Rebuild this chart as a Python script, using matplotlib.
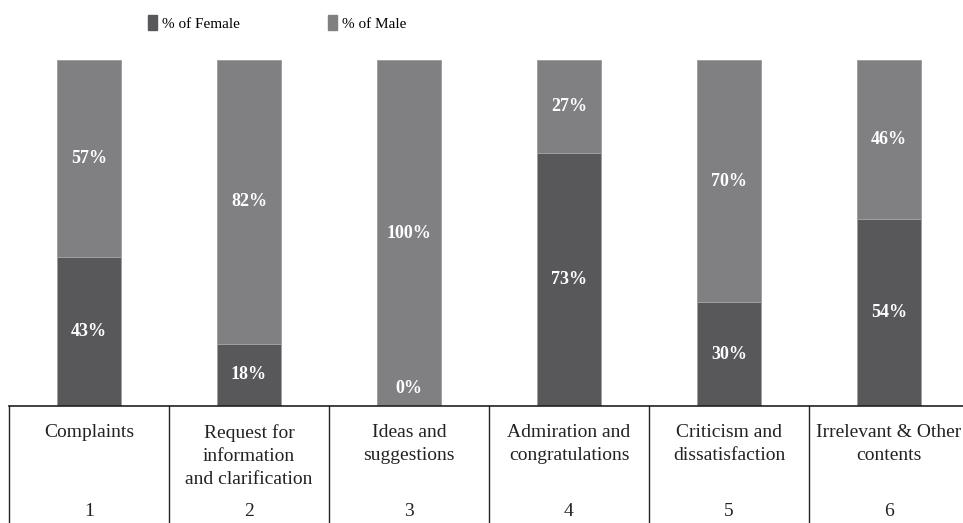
import matplotlib.pyplot as plt
import numpy as np
from matplotlib.patches import Patch

categories = ["Complaints", "Request for\ninformation\nand clarification", "Ideas and\nsuggestions",
              "Admiration and\ncongratulations", "Criticism and\ndissatisfaction", "Irrelevant & Other\ncontents"]
numbers = ["1", "2", "3", "4", "5", "6"]
female = [43, 18, 0, 73, 30, 54]
male = [57, 82, 100, 27, 70, 46]

plt.rcParams['font.family'] = ['Liberation Serif', 'DejaVu Serif']

fig = plt.figure(figsize=(9.63, 5.23), dpi=100)
# axes runs a little past the right edge, as in the reference
ax = fig.add_axes([9 / 963, 117 / 523, 960 / 963, 346 / 523])

x = np.arange(1, len(categories) + 1)
c_f = '#58585a'
c_m = '#808083'
ax.bar(x, female, width=0.4, color=c_f, edgecolor='#a0a0a2', linewidth=0.7)
ax.bar(x, male, width=0.4, bottom=female, color=c_m, edgecolor='#a0a0a2', linewidth=0.7)

for xi, f, m in zip(x, female, male):
    fy = f / 2 if f > 0 else 5
    ax.text(xi, fy, f"{f}%", ha='center', va='center', color='white', fontsize=13, fontweight='bold')
    ax.text(xi, f + m / 2, f"{m}%", ha='center', va='center', color='white', fontsize=13, fontweight='bold')

# table under the bars
ax.plot([0.5, 6.5], [0, 0], color='#222222', lw=1.2, clip_on=False)
for b in np.arange(0.5, 6.5, 1.0):
    ax.plot([b, b], [0, -40], color='#222222', lw=1.0, clip_on=False)

for xi, cat, num in zip(x, categories, numbers):
    ax.text(xi, -5.2, cat, ha='center', va='top', fontsize=14, color='#222222', linespacing=1.45)
    ax.text(xi, -30.5, num, ha='center', va='center', fontsize=14, color='#222222')

ax.set_xlim(0.5, 6.5)
ax.set_ylim(0, 100)
ax.axis('off')

handles = [Patch(color=c_f, label='% of Female'), Patch(color=c_m, label='% of Male')]
fig.legend(handles=handles, loc='center', bbox_to_anchor=(277 / 963, 1 - 23 / 523), ncol=2, frameon=False,
           fontsize=11, handlelength=0.6, handleheight=1.1, handletextpad=0.3, columnspacing=5.8)

fig.savefig('out.png', dpi=100)
